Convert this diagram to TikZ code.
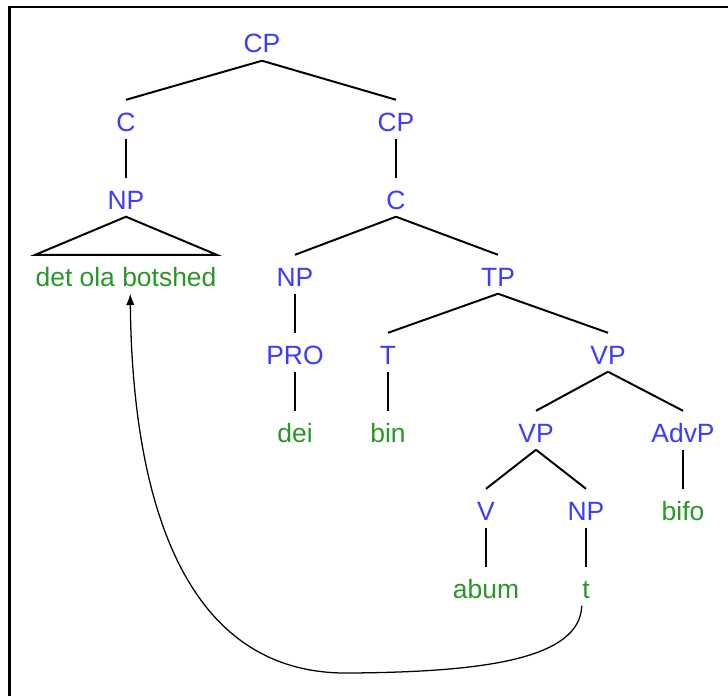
\documentclass[tikz,border=0pt]{standalone}
\usepackage{fontspec}
\setmainfont{Liberation Sans}
\usetikzlibrary{arrows.meta}

\definecolor{catblue}{RGB}{60,60,250}
\definecolor{wordgreen}{RGB}{40,150,40}

\tikzset{
  catnode/.style={catblue, anchor=base, inner sep=0pt, text height=22pt, text depth=5.3pt, font=\fontsize{18.8}{22}\selectfont},
  wordnode/.style={catnode, wordgreen},
  branch/.style={line width=1.4pt},
  unary/.style={line width=0.75pt},
}

\begin{document}
\begin{tikzpicture}[x=0.025cm, y=-0.025cm]
\useasboundingbox (0,0) rectangle (728,696);
\draw[line width=1.5pt] (9.5,696) -- (9.5,7) -- (728,7);

\node[catnode] (cp) at (262,53) {CP};
\node[catnode] (c) at (126,131) {C};
\node[catnode] (cpb) at (396,131) {CP};
\node[catnode] (np) at (126,209) {NP};
\node[catnode] (cb) at (396,209) {C};
\node[wordnode] (lex) at (126,286) {det ola botshed};
\node[catnode] (npb) at (295,286) {NP};
\node[catnode] (tp) at (498,286) {TP};
\node[catnode] (pro) at (295,364) {PRO};
\node[catnode] (t) at (388,364) {T};
\node[catnode] (vp) at (608,364) {VP};
\node[wordnode] (dei) at (295,442) {dei};
\node[wordnode] (bin) at (388,442) {bin};
\node[catnode] (vpb) at (536,442) {VP};
\node[catnode] (advp) at (683,442) {AdvP};
\node[catnode] (v) at (486,520) {V};
\node[catnode] (npc) at (586,520) {NP};
\node[wordnode] (bifo) at (683,520) {bifo};
\node[wordnode] (abum) at (486,598) {abum};
\node[wordnode] (trace) at (586,598) {t};

\foreach \a/\b in {cp/c, cp/cpb, cb/npb, cb/tp, tp/t, tp/vp, vp/vpb, vp/advp, vpb/v, vpb/npc}
  \draw[branch] (\a.south) -- (\b.north);
\foreach \a/\b in {c/np, cpb/cb, npb/pro, pro/dei, t/bin, advp/bifo, v/abum, npc/trace}
  \draw[unary] (\a.south) -- (\b.north);

\draw[branch] (np.south) -- (lex.north west) -- (lex.north east) -- cycle;

\draw[line width=0.9pt, -{Latex[length=8pt, width=6pt]}] ([xshift=-3pt]trace.south) .. controls (580,660) and (480,672) .. (350,673) .. controls (170,676) and (132,470) .. ([xshift=3pt]lex.south);
\end{tikzpicture}
\end{document}
